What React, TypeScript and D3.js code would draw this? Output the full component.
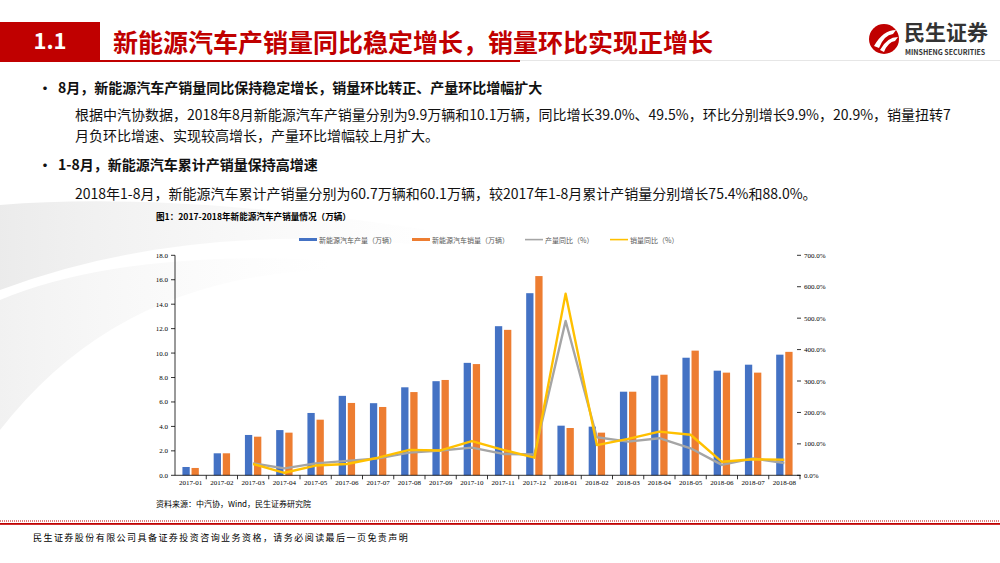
import { useMemo } from 'react';
import * as d3 from 'd3';

const months = [
  '2017-01', '2017-02', '2017-03', '2017-04', '2017-05', '2017-06', '2017-07', '2017-08', '2017-09', '2017-10',
  '2017-11', '2017-12', '2018-01', '2018-02', '2018-03', '2018-04', '2018-05', '2018-06', '2018-07', '2018-08',
];
const production = [0.68, 1.8, 3.3, 3.7, 5.1, 6.5, 5.9, 7.2, 7.7, 9.2, 12.2, 14.9, 4.06, 3.98, 6.84, 8.15, 9.62, 8.56, 9.05, 9.87];
const sales = [0.6, 1.8, 3.16, 3.49, 4.55, 5.92, 5.59, 6.81, 7.8, 9.1, 11.9, 16.3, 3.87, 3.49, 6.84, 8.23, 10.2, 8.4, 8.4, 10.1];
// year-on-year growth, %, starting from 2017-03
const prodYoY = [null, null, 38, 22, 38, 46, 54, 72, 79, 88, 68, 66, 491, 121, 107, 118, 86, 33, 54, 39];
const salesYoY = [null, null, 36, 8, 31, 36, 56, 81, 79, 109, 81, 56, 578, 96, 116, 139, 129, 43, 51, 49.5];
const leftTicks = [0, 2, 4, 6, 8, 10, 12, 14, 16, 18];
const rightTicks = [0, 100, 200, 300, 400, 500, 600, 700];
const legendItems = [
  { label: '新能源汽车产量（万辆）', color: '#4472C4', kind: 'bar' },
  { label: '新能源汽车销量（万辆）', color: '#ED7D31', kind: 'bar' },
  { label: '产量同比（%）', color: '#A5A5A5', kind: 'line' },
  { label: '销量同比（%）', color: '#FFC000', kind: 'line' },
];

const RED = '#C00000';
const SANS = '"Microsoft YaHei", "Noto Sans CJK SC", "Noto Sans", sans-serif';
const SERIF = '"Liberation Serif", "DejaVu Serif", serif';

const App = () => {
  const left = 175, right = 800, top = 255.3, bottom = 475.3;

  const x = useMemo(() => d3.scaleBand().domain(months).range([left, right]).padding(0), []);
  const y = useMemo(() => d3.scaleLinear().domain([0, 18]).range([bottom, top]), []);
  const y2 = useMemo(() => d3.scaleLinear().domain([0, 700]).range([bottom, top]), []);

  const line = d3.line<any>()
    .defined((d) => d.v != null)
    .x((d) => (x(d.m) as number) + x.bandwidth() / 2)
    .y((d) => y2(d.v));

  const prodPts = months.map((m, i) => ({ m, v: prodYoY[i] }));
  const salesPts = months.map((m, i) => ({ m, v: salesYoY[i] }));

  // legend layout: swatch + label, items placed one after another
  const legendX: number[] = [];
  let lx = 299;
  legendItems.forEach((it) => {
    legendX.push(lx);
    lx += 20 + it.label.length * 7 + 16;
  });

  return (
    <svg width={1000} height={563} style={{ position: 'absolute', left: 0, top: 0, background: '#fff' }}>
      <defs>
        <linearGradient id="swoosh" x1="0" y1="0" x2="1" y2="0">
          <stop offset="0" stopColor="#e9e9e9" stopOpacity="0.9" />
          <stop offset="1" stopColor="#f4f4f4" stopOpacity="0" />
        </linearGradient>
      </defs>

      {/* faint background swoosh */}
      <path d="M0,205 Q180,190 460,235 L460,250 Q200,215 0,290 Z" fill="url(#swoosh)" />
      <path d="M0,300 Q120,250 330,260 L330,270 Q120,275 0,430 Z" fill="url(#swoosh)" opacity={0.7} />

      {/* header */}
      <rect x={0} y={22} width={100} height={38} fill={RED} />
      <text x={50} y={49} textAnchor="middle" fill="#fff" fontFamily={SANS} fontWeight="bold" fontSize={22}>1.1</text>
      <text x={113} y={52} fill={RED} fontFamily={SANS} fontWeight="bold" fontSize={25}>新能源汽车产销量同比稳定增长，销量环比实现正增长</text>
      <rect x={0} y={60} width={520} height={2} fill={RED} />
      <rect x={520} y={60} width={480} height={1} fill="#e6e6e6" />

      {/* logo */}
      <circle cx={884} cy={39} r={15} fill={RED} />
      <path d="M874,46 Q883,30 896,30 L893,34 Q884,35 879,48 Z" fill="#fff" />
      <path d="M880,50 Q887,37 898,37 L895,41 Q888,42 884,52 Z" fill="#fff" />
      <text x={904} y={40} fill="#333" fontFamily={SANS} fontWeight="bold" fontSize={21}>民生证券</text>
      <text x={905} y={55} fill="#333" fontFamily={SANS} fontWeight="bold" fontSize={7}>MINSHENG SECURITIES</text>

      {/* bullets */}
      <text fontFamily={SANS} fontSize={14} fill="#111">
        <tspan x={38} y={93} fontWeight="bold">•</tspan>
        <tspan x={58} y={93} fontWeight="bold">8月，新能源汽车产销量同比保持稳定增长，销量环比转正、产量环比增幅扩大</tspan>
        <tspan x={75} y={120}>根据中汽协数据，2018年8月新能源汽车产销量分别为9.9万辆和10.1万辆，同比增长39.0%、49.5%，环比分别增长9.9%，20.9%，销量扭转7</tspan>
        <tspan x={75} y={141}>月负环比增速、实现较高增长，产量环比增幅较上月扩大。</tspan>
        <tspan x={38} y={170} fontWeight="bold">•</tspan>
        <tspan x={58} y={170} fontWeight="bold">1-8月，新能源汽车累计产销量保持高增速</tspan>
        <tspan x={75} y={199}>2018年1-8月，新能源汽车累计产销量分别为60.7万辆和60.1万辆，较2017年1-8月累计产销量分别增长75.4%和88.0%。</tspan>
      </text>

      {/* chart title */}
      <text x={156} y={220} fontFamily={SANS} fontWeight="bold" fontSize={8.6} fill="#000">图1：2017-2018年新能源汽车产销量情况（万辆）</text>

      {/* legend */}
      {legendItems.map((it, i) => (
        <g key={it.label}>
          {it.kind === 'bar'
            ? <rect x={legendX[i]} y={238} width={18} height={3} fill={it.color} />
            : <rect x={legendX[i]} y={238.8} width={18} height={1.6} fill={it.color} />}
          <text x={legendX[i] + 20} y={242.5} fontFamily={SANS} fontSize={7} fill="#595959">{it.label}</text>
        </g>
      ))}

      {/* bars */}
      {months.map((m, i) => {
        const c = (x(m) as number) + x.bandwidth() / 2;
        return (
          <g key={m}>
            <rect x={c - 8.2} y={y(production[i])} width={7.3} height={bottom - y(production[i])} fill="#4472C4" />
            <rect x={c + 0.9} y={y(sales[i])} width={7.3} height={bottom - y(sales[i])} fill="#ED7D31" />
          </g>
        );
      })}

      {/* lines */}
      <path d={line(prodPts) || ''} fill="none" stroke="#A5A5A5" strokeWidth={2.4} strokeLinejoin="round" />
      <path d={line(salesPts) || ''} fill="none" stroke="#FFC000" strokeWidth={2.4} strokeLinejoin="round" />

      {/* left axis */}
      <line x1={left} x2={left} y1={top} y2={bottom} stroke="#000" strokeWidth={0.8} />
      {leftTicks.map((t) => (
        <g key={t}>
          <line x1={left - 4} x2={left} y1={y(t)} y2={y(t)} stroke="#000" strokeWidth={0.8} />
          <text x={left - 7} y={y(t) + 2.5} textAnchor="end" fontFamily={SERIF} fontSize={7} fill="#000">{t.toFixed(1)}</text>
        </g>
      ))}

      {/* right axis */}
      {rightTicks.map((t) => (
        <g key={t}>
          <line x1={right - 3} x2={right + 1} y1={y2(t)} y2={y2(t)} stroke="#000" strokeWidth={0.8} />
          <text x={right + 4} y={y2(t) + 2.5} fontFamily={SERIF} fontSize={7} fill="#000">{t.toFixed(1)}%</text>
        </g>
      ))}

      {/* x axis */}
      <line x1={left} x2={right} y1={bottom} y2={bottom} stroke="#000" strokeWidth={0.8} />
      {months.map((m) => (
        <g key={m}>
          <line x1={(x(m) as number) + x.bandwidth()} x2={(x(m) as number) + x.bandwidth()} y1={bottom} y2={bottom + 4} stroke="#000" strokeWidth={0.8} />
          <text x={(x(m) as number) + x.bandwidth() / 2} y={bottom + 10} textAnchor="middle" fontFamily={SERIF} fontSize={7} fill="#000">{m}</text>
        </g>
      ))}

      {/* source */}
      <text x={156} y={507} fontFamily={SANS} fontSize={8} fill="#000">资料来源：中汽协，Wind，民生证券研究院</text>

      {/* footer */}
      <line x1={0} x2={1000} y1={521} y2={521} stroke={RED} strokeWidth={1.2} strokeDasharray="1 1" />
      <rect x={0} y={523} width={1000} height={1.8} fill={RED} />
      <text x={33} y={541} fontFamily={SANS} fontSize={9} letterSpacing={1.45} fill="#000">民生证券股份有限公司具备证券投资咨询业务资格，请务必阅读最后一页免责声明</text>
    </svg>
  );
};

export default App;
